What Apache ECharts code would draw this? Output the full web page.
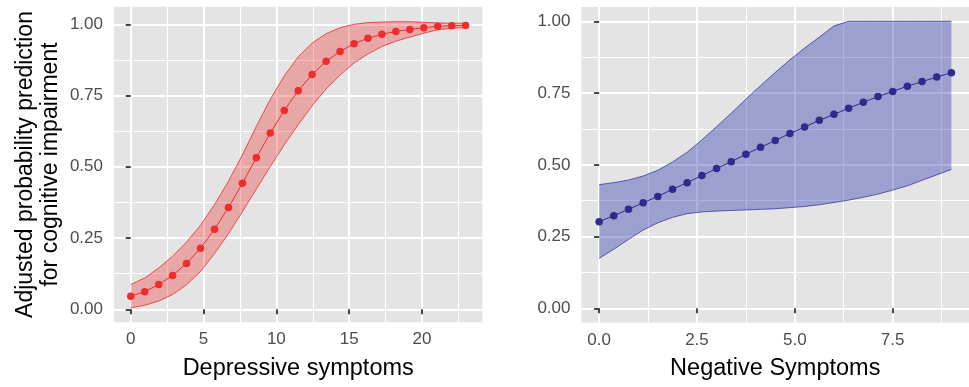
<!DOCTYPE html>
<html>
<head>
<meta charset="utf-8">
<script src="https://cdn.jsdelivr.net/npm/echarts@6/dist/echarts.min.js"></script>
<style>
html,body{margin:0;padding:0;background:#fff;}
#chart{width:969px;height:387px;}
</style>
</head>
<body>
<div id="chart"></div>
<script>
// ---- Left panel: Depressive symptoms ----
const depX = [0, 0.958, 1.917, 2.875, 3.833, 4.792, 5.75, 6.708, 7.667, 8.625, 9.583, 10.542, 11.5,
  12.458, 13.417, 14.375, 15.333, 16.292, 17.25, 18.208, 19.167, 20.125, 21.083, 22.042, 23];
const depPred = [0.046, 0.062, 0.087, 0.119, 0.161, 0.214, 0.281, 0.357, 0.442, 0.532, 0.619, 0.698, 0.767,
  0.824, 0.870, 0.905, 0.932, 0.951, 0.965, 0.975, 0.982, 0.988, 0.993, 0.995, 0.996];
const depLow = [0.005, 0.014, 0.029, 0.052, 0.086, 0.133, 0.195, 0.265, 0.342, 0.422, 0.501, 0.577, 0.648,
  0.714, 0.773, 0.822, 0.864, 0.896, 0.922, 0.941, 0.955, 0.969, 0.981, 0.986, 0.988];
const depHigh = [0.087, 0.110, 0.145, 0.186, 0.236, 0.295, 0.367, 0.449, 0.542, 0.642, 0.737, 0.819, 0.886,
  0.934, 0.967, 0.988, 1.000, 1.006, 1.008, 1.009, 1.009, 1.007, 1.005, 1.004, 1.004];

// ---- Right panel: Negative symptoms ----
const negX = [0, 0.375, 0.75, 1.125, 1.5, 1.875, 2.25, 2.625, 3, 3.375, 3.75, 4.125, 4.5,
  4.875, 5.25, 5.625, 6, 6.375, 6.75, 7.125, 7.5, 7.875, 8.25, 8.625, 9];
const negPred = [0.302, 0.323, 0.345, 0.368, 0.390, 0.415, 0.438, 0.463, 0.487, 0.511, 0.537, 0.561, 0.585,
  0.609, 0.632, 0.655, 0.676, 0.697, 0.718, 0.738, 0.756, 0.774, 0.790, 0.806, 0.821];
const negLow = [0.174, 0.206, 0.240, 0.273, 0.298, 0.317, 0.330, 0.336, 0.339, 0.341, 0.343, 0.345, 0.347,
  0.351, 0.355, 0.361, 0.369, 0.377, 0.387, 0.398, 0.412, 0.427, 0.446, 0.465, 0.484];
const negHigh = [0.431, 0.438, 0.447, 0.461, 0.481, 0.510, 0.544, 0.587, 0.633, 0.680, 0.729, 0.776, 0.822,
  0.866, 0.907, 0.945, 0.984, 1.000, 1.000, 1.000, 1.000, 1.000, 1.000, 1.000, 1.000];

// ---- Tick labels ----
const depXTicks = [0, 5, 10, 15, 20];
const negXTicks = [0, 2.5, 5, 7.5];
const yTicks = [0, 0.25, 0.5, 0.75, 1];

const titleLeftX = 'Depressive symptoms';
const titleRightX = 'Negative Symptoms';
const titleY = 'Adjusted probability prediction\nfor cognitive impairment';

const FONT = '"Liberation Sans", Arial, Helvetica, sans-serif';
const RED = '#EE2C2C';
const RED_FILL = 'rgba(242,40,40,0.32)';
const NAVY = '#2F2A8C';
const NAVY_FILL = 'rgba(50,57,177,0.40)';

function pairs(xs, ys) { return xs.map((x, i) => [x, ys[i]]); }

function xAxisCfg(gi, min, max, ticks, step, name, fmt) {
  return {
    type: 'value', gridIndex: gi, min: min, max: max,
    minInterval: step, maxInterval: step,
    axisLine: { show: false },
    axisTick: { show: true, length: 5, lineStyle: { color: '#333333', width: 1.8 }, customValues: ticks },
    axisLabel: { customValues: ticks, color: '#4D4D4D', fontSize: 17, fontFamily: FONT, margin: 9, formatter: fmt },
    splitLine: { show: true, lineStyle: { color: '#FFFFFF', width: 2 } },
    minorTick: { show: false, splitNumber: 2 },
    minorSplitLine: { show: true, lineStyle: { color: '#FFFFFF', width: 1.1 } },
    name: name, nameLocation: 'middle', nameGap: 34,
    nameTextStyle: { color: '#000000', fontSize: 23.5, fontFamily: FONT }
  };
}
function yAxisCfg(gi, min, max, name) {
  return {
    type: 'value', gridIndex: gi, min: min, max: max,
    minInterval: 0.25, maxInterval: 0.25,
    axisLine: { show: false },
    axisTick: { show: true, length: 5, lineStyle: { color: '#333333', width: 1.8 }, customValues: yTicks },
    axisLabel: { customValues: yTicks, color: '#4D4D4D', fontSize: 17, fontFamily: FONT, margin: 11,
      formatter: v => v.toFixed(2) },
    splitLine: { show: true, lineStyle: { color: '#FFFFFF', width: 2 } },
    minorTick: { show: false, splitNumber: 2 },
    minorSplitLine: { show: true, lineStyle: { color: '#FFFFFF', width: 1.1 } },
    name: name || '', nameLocation: 'middle', nameGap: 51, nameRotate: 90,
    nameTextStyle: { color: '#000000', fontSize: 23, fontFamily: FONT, lineHeight: 25, align: 'center' }
  };
}

function bandSeries(gi, xs, lo, hi, stroke, fill) {
  const rows = xs.map((x, i) => [x, lo[i], hi[i]]);
  return {
    type: 'custom', coordinateSystem: 'cartesian2d', xAxisIndex: gi, yAxisIndex: gi,
    data: rows, encode: { x: 0, y: [1, 2] }, silent: true, z: 2,
    renderItem: function (params, api) {
      if (params.dataIndex !== 0) return null;
      const upPts = rows.map(r => api.coord([r[0], r[2]]));
      const loPts = rows.map(r => api.coord([r[0], r[1]]));
      return {
        type: 'group',
        children: [
          { type: 'polygon', shape: { points: upPts.concat(loPts.slice().reverse()) },
            style: { fill: fill, stroke: null } },
          { type: 'polyline', shape: { points: upPts }, style: { fill: null, stroke: stroke, lineWidth: 0.8 } },
          { type: 'polyline', shape: { points: loPts }, style: { fill: null, stroke: stroke, lineWidth: 0.8 } }
        ]
      };
    }
  };
}
function pointSeries(gi, xs, ys, color) {
  return { type: 'line', xAxisIndex: gi, yAxisIndex: gi, data: pairs(xs, ys),
    symbol: 'circle', symbolSize: 7.5, showSymbol: true,
    itemStyle: { color: color, borderWidth: 0 }, lineStyle: { color: color, width: 1 }, z: 3 };
}

const chart = echarts.init(document.getElementById('chart'), null, { renderer: 'canvas' });
chart.setOption({
  animation: false,
  backgroundColor: '#FFFFFF',
  textStyle: { fontFamily: FONT },
  grid: [
    { left: 114, top: 6.7, width: 368.4, height: 315.6, show: true, backgroundColor: '#E3E4E3', borderWidth: 0, containLabel: false },
    { left: 581.5, top: 7, width: 394.7, height: 315.7, show: true, backgroundColor: '#E3E4E3', borderWidth: 0, containLabel: false }
  ],
  xAxis: [
    xAxisCfg(0, -1.15, 24.15, depXTicks, 5, titleLeftX, v => String(v)),
    xAxisCfg(1, -0.45, 9.45, negXTicks, 2.5, titleRightX, v => v.toFixed(1))
  ],
  yAxis: [
    yAxisCfg(0, -0.0456, 1.0618, titleY),
    yAxisCfg(1, -0.05, 1.05, '')
  ],
  series: [
    bandSeries(0, depX, depLow, depHigh, RED, RED_FILL),
    pointSeries(0, depX, depPred, RED),
    bandSeries(1, negX, negLow, negHigh, '#3B3A9A', NAVY_FILL),
    pointSeries(1, negX, negPred, NAVY)
  ]
});
</script>
</body>
</html>
